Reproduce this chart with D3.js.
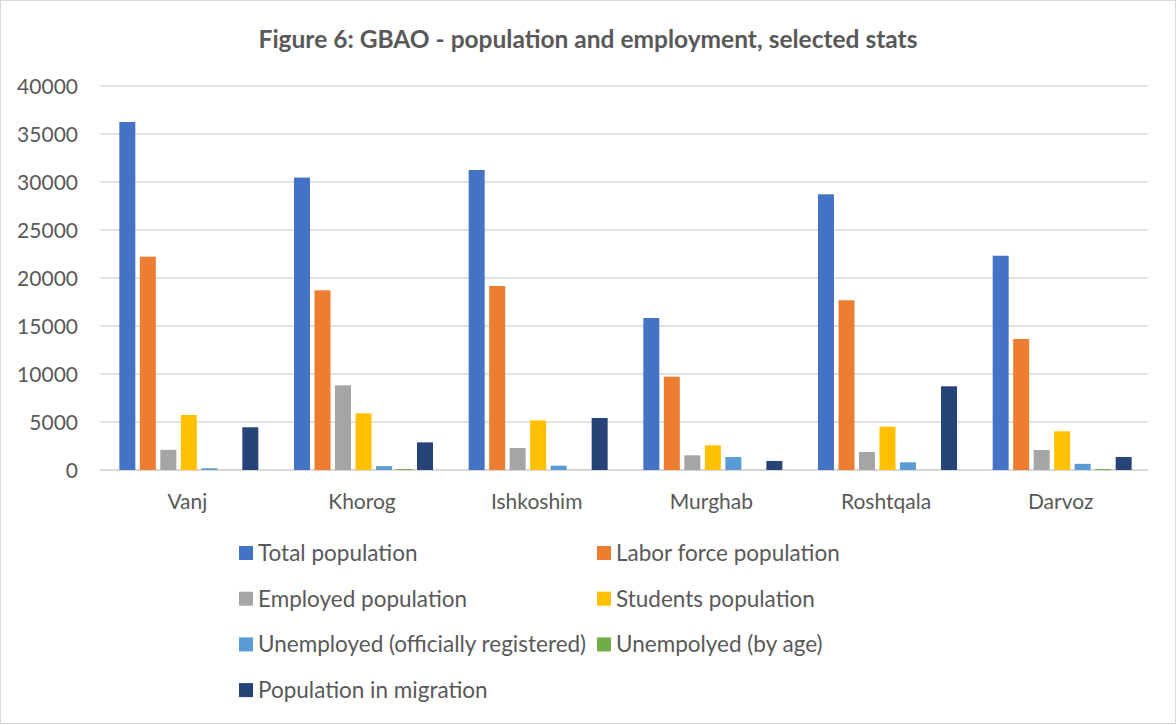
<!DOCTYPE html>
<html>
<head>
<meta charset="utf-8">
<script src="https://cdn.jsdelivr.net/npm/d3@7"></script>
<style>
  html, body { margin: 0; padding: 0; background: #fff; }
  svg { display: block; font-family: Lato, "Open Sans", sans-serif; }
</style>
</head>
<body>
<svg id="chart" width="1176" height="725"></svg>
<script>
// Districts of GBAO
const districts = ["Vanj", "Khorog", "Ishkoshim", "Murghab", "Roshtqala", "Darvoz"];

// Series names and values per district
const seriesNames = [
  "Total population",
  "Labor force population",
  "Employed population",
  "Students population",
  "Unemployed (officially registered)",
  "Unempolyed (by age)",
  "Population in migration"
];
const totalPopulation   = [36250, 30460, 31250, 15830, 28720, 22320];
const laborForce        = [22220, 18720, 19170,  9720, 17680, 13650];
const employed          = [ 2100,  8820,  2290,  1530,  1880,  2080];
const students          = [ 5730,  5900,  5170,  2570,  4510,  4030];
const unemployedOfficial= [  180,   400,   450,  1350,   800,   640];
const unemployedByAge   = [   20,   100,    20,    20,    20,   100];
const migration         = [ 4450,  2880,  5420,   940,  8720,  1350];

const seriesValues = [totalPopulation, laborForce, employed, students,
                      unemployedOfficial, unemployedByAge, migration];
const colors = ["#4472C4", "#ED7D31", "#A5A5A5", "#FFC000", "#5B9BD5", "#70AD47", "#264478"];

const yTicks = [0, 5000, 10000, 15000, 20000, 25000, 30000, 35000, 40000];

const svg = d3.select("#chart");
const W = 1176, H = 725;
const plot = { left: 100, right: 1148, top: 86, bottom: 470 };
const textColor = "#595959";
const gridColor = "#d9d9d9";

// outer frame
svg.append("rect")
  .attr("x", 0.5).attr("y", 0.5)
  .attr("width", W - 1).attr("height", H - 2)
  .attr("fill", "#fff").attr("stroke", gridColor).attr("stroke-width", 1);

// title
svg.append("text")
  .attr("x", 588).attr("y", 48)
  .attr("text-anchor", "middle")
  .attr("fill", textColor)
  .attr("font-size", 24.5)
  .attr("font-weight", "bold")
  .text("Figure 6: GBAO - population and employment, selected stats");

const y = d3.scaleLinear().domain([0, 40000]).range([plot.bottom, plot.top]);
const x0 = d3.scaleBand().domain(districts).range([plot.left, plot.right]).padding(0);
const groupWidth = 143.5;
const x1 = d3.scaleBand().domain(d3.range(seriesNames.length))
  .range([0, groupWidth]).paddingInner(0.22).paddingOuter(0.11);

// gridlines
svg.append("g")
  .selectAll("line")
  .data(yTicks)
  .join("line")
  .attr("x1", plot.left).attr("x2", plot.right)
  .attr("y1", d => y(d)).attr("y2", d => y(d))
  .attr("stroke", gridColor)
  .attr("stroke-width", d => d === 0 ? 2 : 1.5);

// y axis labels
const yAxis = d3.axisLeft(y).tickValues(yTicks).tickSize(0).tickPadding(0).tickFormat(d3.format("d"));
const yg = svg.append("g").attr("transform", `translate(78,0)`).call(yAxis);
yg.select(".domain").remove();
yg.selectAll("text").attr("fill", textColor).attr("font-size", 21)
  .attr("font-family", "Lato, sans-serif").attr("dy", "0.35em");

// bars
const groups = svg.append("g")
  .selectAll("g")
  .data(districts)
  .join("g")
  .attr("transform", d => `translate(${x0(d) + x0.bandwidth() / 2 - groupWidth / 2 + 1.5},0)`);

groups.selectAll("rect")
  .data((d, i) => seriesValues.map((vals, s) => ({ s, v: vals[i] })))
  .join("rect")
  .attr("x", d => x1(d.s))
  .attr("width", x1.bandwidth())
  .attr("y", d => y(d.v))
  .attr("height", d => y(0) - y(d.v))
  .attr("fill", d => colors[d.s]);

// category axis labels
const xAxis = d3.axisBottom(x0).tickSize(0).tickPadding(0);
const xg = svg.append("g").attr("transform", `translate(0,${plot.bottom + 39})`).call(xAxis);
xg.select(".domain").remove();
xg.selectAll("text").attr("fill", textColor).attr("font-size", 21)
  .attr("font-family", "Lato, sans-serif").attr("dy", 0);

// legend: two columns
const legend = svg.append("g");
const legItems = legend.selectAll("g")
  .data(seriesNames)
  .join("g")
  .attr("transform", (d, i) => `translate(${i % 2 === 0 ? 239 : 597},${553 + Math.floor(i / 2) * 45.7})`);
legItems.append("rect")
  .attr("x", 0).attr("y", -7).attr("width", 14).attr("height", 14)
  .attr("fill", (d, i) => colors[i]);
legItems.append("text")
  .attr("x", 19).attr("y", 0).attr("dy", "0.35em")
  .attr("fill", textColor).attr("font-size", 22.5)
  .text(d => d);
</script>
</body>
</html>
